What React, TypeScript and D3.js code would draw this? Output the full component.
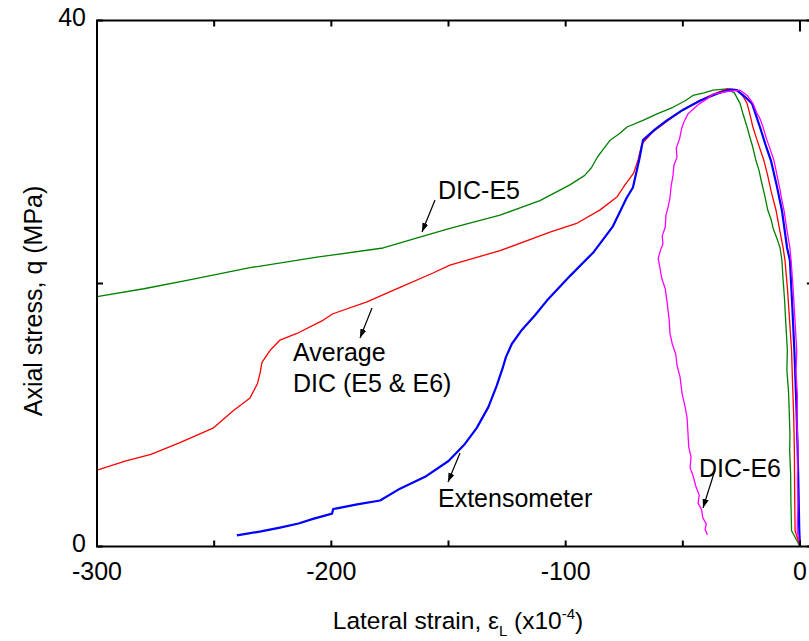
import React from "react";
import * as d3 from "d3";

type P = [number, number];

const xTicksMajor = [-300, -200, -100, 0];
const xTicksMinor = [-250, -150, -50];
const yTickLabels = [0, 40];
const yTicksAll = [0, 20, 40];

const extensometer: P[] = [
  [-240.3, 0.84], [-230, 1.15], [-221.9, 1.44], [-214, 1.75], [-207.8, 2.1], [-199.7, 2.5],
  [-199.2, 2.85], [-197.6, 2.9], [-189, 3.2], [-179.2, 3.5], [-170.7, 4.4], [-160, 5.3],
  [-150, 6.5], [-143, 7.8], [-138, 9.0], [-133, 10.6], [-129.5, 12.2], [-127, 13.5],
  [-125.5, 14.4], [-123, 15.4], [-119, 16.4], [-113, 17.6], [-108, 18.7], [-98, 20.6],
  [-88, 22.4], [-80, 24.3], [-74, 26.5], [-71.3, 27.3], [-68.5, 29.5], [-67, 30.9],
  [-62, 31.7], [-56.8, 32.4], [-50, 33.2], [-42.7, 33.9], [-36, 34.4], [-30, 34.75],
  [-27, 34.7], [-23.5, 34.2], [-20.5, 33.7], [-17.1, 31.9], [-14.8, 30.6], [-12.4, 29.35],
  [-10, 27.5], [-7.7, 25.55], [-5.5, 22.7], [-4.3, 21.75], [-3.3, 18.3], [-2.4, 14.9],
  [-1.6, 11], [-1.0, 7.3], [-0.6, 4], [-0.3, 1.2], [0, 0],
];

const averageDIC: P[] = [
  [-300, 5.8], [-288, 6.5], [-277, 7.0], [-264.6, 7.9], [-250.5, 9.0], [-242, 10.3],
  [-234.7, 11.3], [-231.5, 12.4], [-230.4, 13.2], [-229.6, 14.0], [-226.2, 14.9],
  [-221.9, 15.7], [-214.7, 16.2], [-203.6, 17.2], [-199.3, 17.7], [-184.8, 18.6],
  [-170.7, 19.7], [-156.6, 20.8], [-149.4, 21.4], [-128, 22.5], [-106.7, 23.9],
  [-95, 24.6], [-85.3, 25.6], [-78, 26.6], [-74.7, 27.5], [-71, 28.4], [-69.1, 29.4],
  [-67.5, 30.6], [-63, 31.5], [-57, 32.3], [-50, 33.2], [-43, 33.9], [-37, 34.4],
  [-31, 34.8], [-27, 34.75], [-24.5, 34.3], [-22.6, 33.7], [-21.3, 32.8], [-20.1, 31.9],
  [-18.5, 31.0], [-17.2, 30.3], [-15.4, 29.35], [-13.9, 28.3], [-12.3, 27.0], [-10.2, 25.55],
  [-8.8, 24.2], [-7.2, 22.7], [-6.4, 21.75], [-5.3, 19.5], [-4.6, 17.6], [-3.6, 14.9],
  [-3.2, 12.5], [-2.7, 10.0], [-2.4, 7.3], [-2.3, 4.5], [-2.1, 1.2], [0, 0],
];

const dicE5: P[] = [
  [-300, 19.0], [-280, 19.6], [-260, 20.3], [-234.7, 21.2], [-206.1, 22.0], [-177.9, 22.7],
  [-160.8, 23.6], [-149.4, 24.2], [-128, 25.2], [-111, 26.3], [-98.2, 27.5], [-92, 28.2],
  [-89, 28.8], [-86.5, 29.6], [-84, 30.2], [-81, 30.9], [-77, 31.4], [-73.8, 31.9],
  [-67, 32.4], [-61, 32.9], [-54.2, 33.4], [-49, 33.9], [-45.7, 34.3], [-41, 34.5],
  [-37.1, 34.7], [-31.1, 34.8], [-28, 34.5], [-25.6, 33.7], [-24.5, 33.0], [-22.6, 31.9],
  [-21.5, 31.2], [-20.2, 30.4], [-18.8, 29.35], [-17.5, 28.6], [-16.4, 27.7], [-15.2, 26.8],
  [-13.7, 25.55], [-12.4, 24.9], [-11.3, 24.1], [-9.6, 23.3], [-8.5, 22.7], [-7.7, 21.75],
  [-7.3, 20.5], [-6.6, 18.8], [-6.1, 17.1], [-5.4, 14.9], [-5.6, 13.4], [-4.9, 11.8],
  [-4.6, 10.3], [-4.3, 8.5], [-4.4, 7.3], [-4.0, 5.5], [-3.9, 3.6], [-3.6, 1.2], [0, 0],
];

const dicE6: P[] = [
  [-39.5, 0.9], [-40.5, 1.3], [-40, 1.7], [-41.5, 2.2], [-42, 2.8], [-43.5, 3.3],
  [-43, 3.9], [-44.5, 4.6], [-45.5, 5.3], [-46.9, 6.0], [-46.5, 6.8], [-47.5, 7.6],
  [-47.8, 8.6], [-48.2, 9.8], [-49, 10.6], [-50.3, 11.6], [-51.2, 12.9], [-52.5, 13.8],
  [-53, 14.6], [-54.5, 15.4], [-55.5, 16.2], [-55.8, 17.2], [-56.8, 18.7], [-57.5, 19.6],
  [-59, 20.4], [-59.8, 21.2], [-60.5, 21.9], [-59.6, 22.5], [-58.5, 23.0], [-58.8, 23.6],
  [-57.5, 24.3], [-57.2, 25.2], [-56.3, 25.8], [-55.5, 26.5], [-55, 27.4], [-54.2, 28.2],
  [-53.8, 29.0], [-52.5, 29.6], [-52.8, 30.3], [-51.4, 31.0], [-50.5, 31.8], [-49.5, 32.3],
  [-47.8, 32.9], [-46, 33.2], [-42.7, 33.7], [-40, 34.0], [-37.1, 34.4], [-34, 34.5],
  [-31.1, 34.6], [-25.6, 34.7], [-22.5, 34.3], [-20.1, 33.7], [-18.5, 33.0], [-17.0, 32.5],
  [-15.8, 31.9], [-14.3, 31.0], [-12.7, 30.2], [-11.1, 29.35], [-10.0, 28.4], [-8.6, 27.2],
  [-7.6, 26.2], [-6.8, 25.55], [-5.6, 24.1], [-4.3, 22.7], [-3.8, 21.75], [-3.0, 19.8],
  [-2.2, 17.4], [-1.4, 14.9], [-1.7, 13.2], [-1.1, 11.5], [-1.3, 9.5], [-0.8, 7.3],
  [-1.1, 5.2], [-0.9, 3.2], [-1.2, 1.2], [0, 0],
];

const series = [
  { name: "DIC-E5", data: dicE5, color: "#008000", width: 1.3 },
  { name: "Average DIC", data: averageDIC, color: "#ff0000", width: 1.3 },
  { name: "Extensometer", data: extensometer, color: "#0000ff", width: 2.2 },
  { name: "DIC-E6", data: dicE6, color: "#ff00ff", width: 1.3 },
];

const FONT = "'Liberation Sans', Arial, sans-serif";

export default function App() {
  const W = 809;
  const H = 641;
  const x = d3.scaleLinear().domain([-300, 0]).range([97, 800]);
  const y = d3.scaleLinear().domain([0, 40]).range([546.5, 20.5]);
  const xRight = x(5.5);
  const line = d3
    .line<P>()
    .x((d) => x(d[0]))
    .y((d) => y(d[1]));
  const tickLen = 6;
  const fs = 25;

  const arrows = [
    { x1: 435, y1: 200, x2: 422, y2: 232 },
    { x1: 372, y1: 308, x2: 360, y2: 338 },
    { x1: 460, y1: 453, x2: 448, y2: 482 },
    { x1: 715, y1: 470, x2: 703, y2: 508 },
  ];

  return (
    <svg
      width={W}
      height={H}
      style={{ position: "absolute", left: 0, top: 0, background: "#fff" }}
      fontFamily={FONT}
    >
      <defs>
        <marker id="ah" viewBox="0 0 10 10" refX="10" refY="5" markerWidth="9" markerHeight="9" orient="auto" markerUnits="userSpaceOnUse">
          <path d="M0,1.5 L10,5 L0,8.5 z" fill="#000" />
        </marker>
        <clipPath id="plot">
          <rect x={x(-300)} y={y(40)} width={xRight - x(-300)} height={y(0) - y(40)} />
        </clipPath>
      </defs>

      <g clipPath="url(#plot)">
        {series.map((s) => (
          <path
            key={s.name}
            d={line(s.data) || ""}
            fill="none"
            stroke={s.color}
            strokeWidth={s.width}
            strokeLinejoin="round"
          />
        ))}
      </g>

      <rect
        x={x(-300)}
        y={y(40)}
        width={xRight - x(-300)}
        height={y(0) - y(40)}
        fill="none"
        stroke="#000"
        strokeWidth={2}
      />

      {[...xTicksMajor, ...xTicksMinor].map((t) => (
        <g key={"xt" + t}>
          <line x1={x(t)} x2={x(t)} y1={y(0)} y2={y(0) - tickLen} stroke="#000" strokeWidth={2} />
          <line x1={x(t)} x2={x(t)} y1={y(40)} y2={y(40) + (t === 0 ? 11 : tickLen)} stroke="#000" strokeWidth={2} />
        </g>
      ))}
      {xTicksMajor.map((t) => (
        <text key={"xl" + t} x={x(t)} y={580} fontSize={fs} textAnchor="middle" fill="#000">
          {t}
        </text>
      ))}

      {yTicksAll.map((t) => (
        <g key={"yt" + t}>
          <line x1={x(-300)} x2={x(-300) + tickLen} y1={y(t)} y2={y(t)} stroke="#000" strokeWidth={2} />
          <line x1={xRight} x2={xRight - tickLen} y1={y(t)} y2={y(t)} stroke="#000" strokeWidth={2} />
        </g>
      ))}
      {yTickLabels.map((t) => (
        <text key={"yl" + t} x={86} y={y(t) + 5.5} fontSize={fs} textAnchor="end" fill="#000">
          {t}
        </text>
      ))}

      <text
        transform="translate(42,301) rotate(-90)"
        fontSize={fs}
        textAnchor="middle"
        fill="#000"
      >
        Axial stress, q (MPa)
      </text>
      <text x={458} y={629} fontSize={24.5} textAnchor="middle" fill="#000">
        <tspan>Lateral strain, ε</tspan>
        <tspan dy={7} fontSize={15}>L</tspan>
        <tspan dy={-7}> (x10</tspan>
        <tspan dy={-10} fontSize={15}>-4</tspan>
        <tspan dy={10}>)</tspan>
      </text>

      <text x={438} y={199} fontSize={fs} fill="#000">DIC-E5</text>
      <text x={293} y={361} fontSize={fs} fill="#000">Average</text>
      <text x={293} y={392} fontSize={fs} fill="#000">DIC (E5 &amp; E6)</text>
      <text x={438} y={507} fontSize={fs} fill="#000">Extensometer</text>
      <text x={699} y={477} fontSize={fs} fill="#000">DIC-E6</text>
      {arrows.map((a, i) => (
        <line key={"ar" + i} x1={a.x1} y1={a.y1} x2={a.x2} y2={a.y2} stroke="#000" strokeWidth={1.2} markerEnd="url(#ah)" />
      ))}
    </svg>
  );
}
